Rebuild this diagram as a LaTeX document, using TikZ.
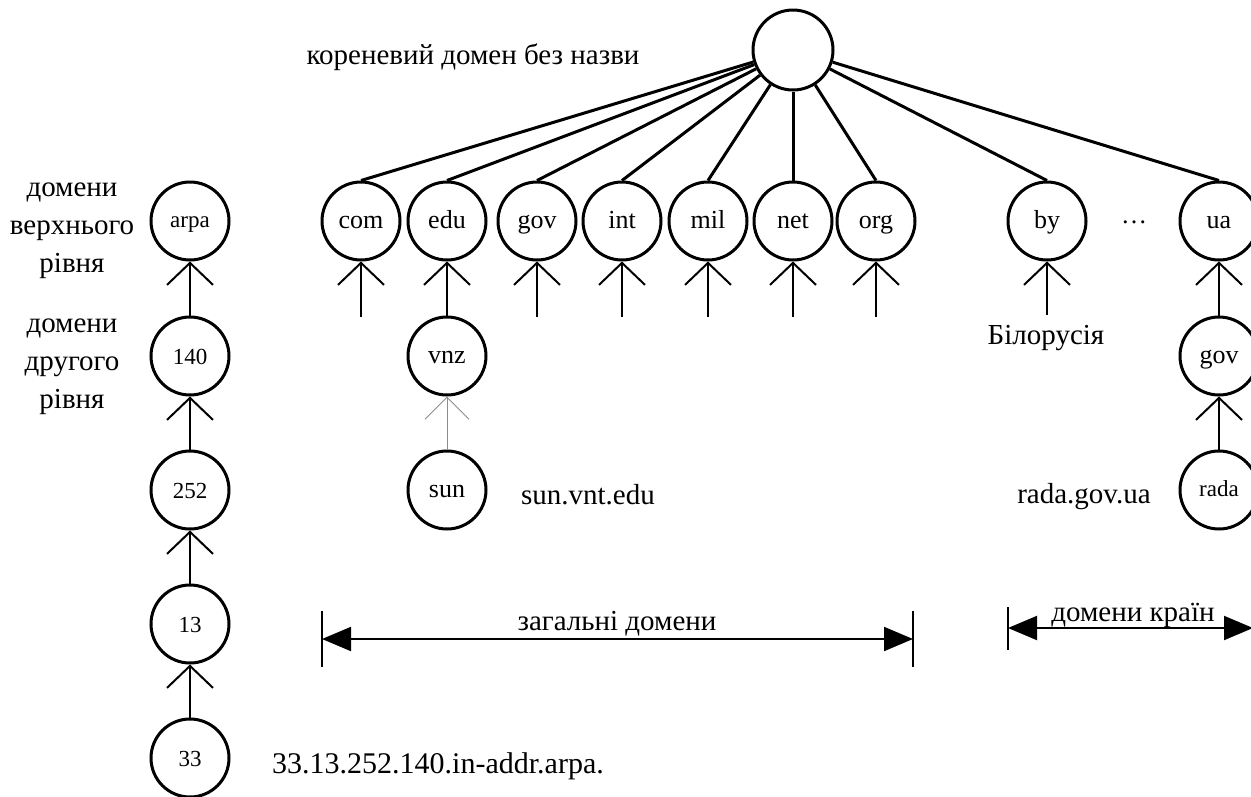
\documentclass[tikz,border=0pt]{standalone}
\usepackage{fontspec}
\setmainfont{Liberation Serif}
\usetikzlibrary{arrows.meta,calc}
\begin{document}
\begin{tikzpicture}[x=1pt,y=-1pt,
  dom/.style={circle,draw,line width=3pt,minimum size=78pt,inner sep=0pt,font=\fontsize{26}{30}\selectfont,text height=15pt,text depth=0pt},
  sdom/.style={dom,font=\fontsize{23}{27}\selectfont,text height=13.5pt},
  ndom/.style={dom,font=\fontsize{23}{27}\selectfont,text height=17.5pt},
  rootline/.style={line width=3pt},
  vup/.style={line width=2pt,-{Straight Barb[length=22pt,width=46pt]}},
  thinup/.style={line width=1pt,draw=black!45,-{Straight Barb[length=22pt,width=44pt]}},
  lbl/.style={font=\fontsize{29}{35}\selectfont,inner sep=0pt},
  spanarrow/.style={line width=2pt,{Triangle[length=29pt,width=24pt]}-{Triangle[length=29pt,width=24pt]}},
  bar/.style={line width=1.5pt}]
\useasboundingbox (0,0) rectangle (1251,796);
\clip (0,0) rectangle (1251,796);
% root
\node[dom,minimum size=80pt] (root) at (793,50) {};
\node[lbl] (rootlbl) at (473,57) {кореневий домен без назви};
% top level
\node[dom] (com) at (361,221) {com};
\node[dom] (edu) at (447,221) {edu};
\node[dom] (gov) at (537,221) {gov};
\node[dom] (int) at (622,221) {int};
\node[dom] (mil) at (708,221) {mil};
\node[dom] (net) at (793,221) {net};
\node[dom] (org) at (876,221) {org};
\node[dom] (by) at (1047,221) {by};
\node[dom] (ua) at (1219,221) {ua};
\node[lbl,font=\fontsize{26}{30}\selectfont] (dots) at (1134,222) {…};
\foreach \c in {com,edu,gov,int,mil,net,org,by,ua}
  \draw[rootline] (root) -- (\c.north);
% stubs
\foreach \c in {com,gov,int,mil,net,org}{
  \coordinate (\c s) at ($(\c.south)+(0,55)$);
  \draw[vup] (\c s) -- (\c);
}
\coordinate (bys) at ($(by.south)+(0,53)$);
\draw[vup] (bys) -- (by);
\node[lbl] (bylbl) at (1046,338) {Білорусія};
% edu branch
\node[dom] (vnz) at (447,356) {vnz};
\node[dom] (sun) at (447,490) {sun};
\draw[vup] (vnz) -- (edu);
\draw[thinup] (sun) -- (vnz);
\node[lbl] (sunlbl) at (588,495) {sun.vnt.edu};
% ua branch
\node[dom] (ugov) at (1219,356) {gov};
\node[sdom] (rada) at (1219,490) {rada};
\draw[vup] (ugov) -- (ua);
\draw[vup] (rada) -- (ugov);
\node[lbl] (radalbl) at (1084,497) {rada.gov.ua};
% arpa column
\node[sdom] (arpa) at (190,221) {arpa};
\node[ndom] (n140) at (190,356) {140};
\node[ndom] (n252) at (190,490) {252};
\node[ndom] (n13) at (190,624) {13};
\node[ndom] (n33) at (190,758) {33};
\draw[vup] (n140) -- (arpa);
\draw[vup] (n252) -- (n140);
\draw[vup] (n13) -- (n252);
\draw[vup] (n33) -- (n13);
\node[lbl,font=\fontsize{30}{36}\selectfont] (arpalbl) at (438,766) {33.13.252.140.in-addr.arpa.};
\node[lbl,align=center,font=\fontsize{29}{38}\selectfont] (toplbl) at (72,231) {домени\\верхнього\\рівня};
\node[lbl,align=center,font=\fontsize{29}{38}\selectfont] (seclbl) at (72,367) {домени\\другого\\рівня};
% ranges
\draw[bar] (322,611) -- (322,667);
\draw[bar] (913,611) -- (913,667);
\coordinate (gl) at (322,639);
\coordinate (gr) at (913,639);
\draw[spanarrow] (gl) -- (gr);
\node[lbl] (zag) at (617,624) {загальні домени};
\draw[bar] (1008,607) -- (1008,650);
\coordinate (cl) at (1008,628);
\coordinate (cr) at (1253,628);
\draw[spanarrow] (cl) -- (cr);
\node[lbl] (krain) at (1133,615) {домени країн};
\end{tikzpicture}
\end{document}
